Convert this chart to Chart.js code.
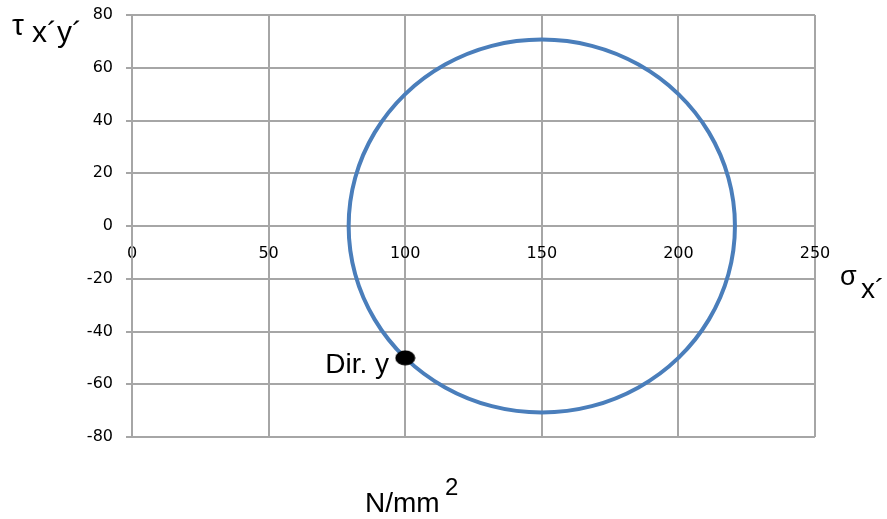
<!DOCTYPE html>
<html>
<head>
<meta charset="UTF-8"/>
<script src="https://cdn.jsdelivr.net/npm/chart.js"></script>
<style>
  body { margin: 0; background: #fff; }
  #wrap { width: 887px; height: 519px; }
</style>
</head>
<body>
<div id="wrap"><canvas id="mohr" width="887" height="519"></canvas></div>
<script>
// points read off the circle (sigma x', tau x'y'), N/mm2
// first and last points only overlap the loop so the spline closes smoothly
const sigma = [218.3, 220.7, 218.3, 211.2, 200, 185.4, 168.3, 150, 131.7, 114.6, 100, 88.8, 81.7, 79.3,
               81.7, 88.8, 100, 114.6, 131.7, 150, 168.3, 185.4, 200, 211.2, 218.3, 220.7, 218.3];
const tau = [-18.3, 0, 18.3, 35.4, 50, 61.2, 68.3, 70.7, 68.3, 61.2, 50, 35.4, 18.3, 0,
             -18.3, -35.4, -50, -61.2, -68.3, -70.7, -68.3, -61.2, -50, -35.4, -18.3, 0, 18.3];
const dirY = [100, -50];
const xTicks = [0, 50, 100, 150, 200, 250];
const yTicks = [-80, -60, -40, -20, 0, 20, 40, 60, 80];

const circlePts = sigma.map((s, i) => ({ x: s, y: tau[i] }));
const lastIdx = circlePts.length - 1;

// black ellipse marker
const dot = document.createElement('canvas');
dot.width = 21; dot.height = 16;
const dctx = dot.getContext('2d');
dctx.fillStyle = '#000';
dctx.beginPath();
dctx.ellipse(10.5, 8, 10, 7.5, 0, 0, Math.PI * 2);
dctx.fill();

const gridCol = '#a6a6a6';
const blue = '#4a7ebb';
const tickFont = { family: 'DejaVu Sans', size: 16 };

const titles = {
  id: 'titles',
  afterDraw(chart) {
    const ctx = chart.ctx;
    ctx.save();
    ctx.fillStyle = '#000';
    ctx.textBaseline = 'alphabetic';
    ctx.textAlign = 'left';
    ctx.font = '30px "Liberation Sans"';
    ctx.fillText('τ', 12, 35);
    ctx.fillText('x´y´', 32, 42);
    ctx.font = '27px "Liberation Sans"';
    ctx.fillText('σ', 840, 285);
    ctx.font = '28px "Liberation Sans"';
    ctx.fillText('x´', 861, 298);
    ctx.fillText('N/mm', 365, 512);
    ctx.font = '24px "Liberation Sans"';
    ctx.fillText('2', 445, 495);
    ctx.font = '28px "Liberation Sans"';
    ctx.textAlign = 'right';
    ctx.fillText('Dir. y', 389, 373);
    ctx.restore();
  }
};

new Chart(document.getElementById('mohr'), {
  type: 'scatter',
  data: {
    datasets: [
      {
        data: [{ x: dirY[0], y: dirY[1] }],
        pointStyle: dot,
        pointRadius: 10,
        showLine: false
      },
      {
        data: circlePts,
        showLine: true,
        borderColor: blue,
        borderWidth: 4,
        tension: 0.34,
        pointRadius: 0,
        fill: false,
        segment: {
          borderColor: c => (c.p0DataIndex === 0 || c.p1DataIndex === lastIdx) ? 'rgba(0,0,0,0)' : blue
        }
      }
    ]
  },
  options: {
    responsive: false,
    devicePixelRatio: 1,
    animation: false,
    layout: { padding: { top: 15, right: 72, bottom: 82, left: 0 } },
    plugins: { legend: { display: false }, tooltip: { enabled: false } },
    scales: {
      x: {
        type: 'linear',
        min: 0, max: 250,
        position: { y: 0 },
        afterBuildTicks: s => { s.ticks = xTicks.map(v => ({ value: v })); },
        afterFit: s => { s.paddingTop = 0; s.paddingBottom = 0; },
        grid: { color: gridCol, lineWidth: 2, tickLength: 6 },
        border: { color: gridCol, width: 2 },
        ticks: { color: '#000', font: tickFont, padding: 12, maxRotation: 0 }
      },
      y: {
        type: 'linear',
        min: -80, max: 80,
        position: 'left',
        afterFit: s => { s.width = 132; s.paddingTop = 0; s.paddingBottom = 0; },
        afterBuildTicks: s => { s.ticks = yTicks.map(v => ({ value: v })); },
        grid: { color: gridCol, lineWidth: 2, tickLength: 6 },
        border: { color: gridCol, width: 2 },
        ticks: { color: '#000', font: tickFont, padding: 13 }
      }
    }
  },
  plugins: [titles]
});
</script>
</body>
</html>
